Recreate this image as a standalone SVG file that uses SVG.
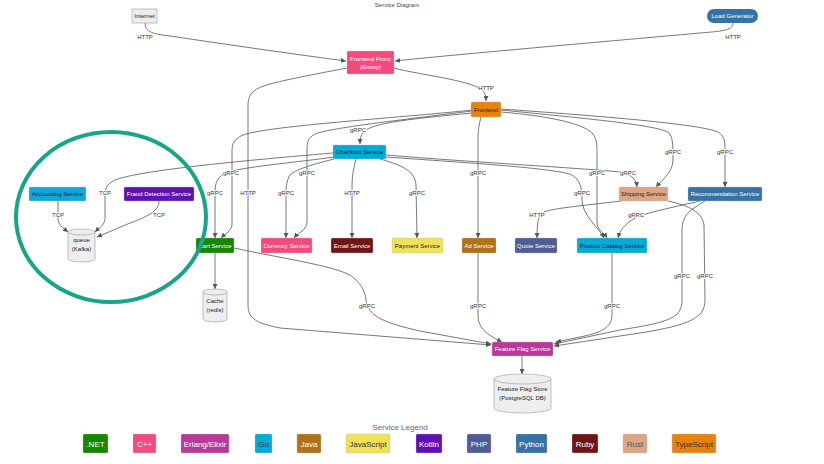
<svg xmlns="http://www.w3.org/2000/svg" width="824" height="464" viewBox="0 0 824 464">
<style>
text{font-family:"Liberation Sans",Arial,sans-serif;text-anchor:middle}
.t{font-size:6px;fill:#fff}
.d{font-size:6px;fill:#222}
.e{fill:none;stroke:#555;stroke-width:0.8;marker-end:url(#ah)}
.l{font-size:6px;fill:#333;paint-order:stroke;stroke:#fff;stroke-width:1.5px}
.n{stroke:#bbb;stroke-width:0.4}
.cyl{fill:#eee;stroke:#999;stroke-width:0.6}
.lg{font-size:8px;fill:#fff}
.lgd{font-size:8px;fill:#333}
</style>
<defs>
<marker id="ah" markerUnits="userSpaceOnUse" markerWidth="5" markerHeight="5" refX="5" refY="2.5" orient="auto">
<path d="M0,0 L5,2.5 L0,5 z" fill="#555"/>
</marker>
</defs>
<rect width="824" height="464" fill="#fff"/>
<text x="397" y="7" style="font-size:6px;fill:#444">Service Diagram</text>

<g id="connectors">
<path class="e" d="M145,23 C145,32 153,34 170,36 C230,45 300,55 346,61"/>
<path class="e" d="M733,23 C733,30 725,31 700,33 C600,42 450,55 395,61"/>
<path class="e" d="M394,68 C420,75 470,80 482,90 C486,94 486,97 486,101"/>
<path class="e" d="M347,68 C310,75 285,80 270,84 C255,88 248,93 248,105 L248,305 C248,318 255,323 280,328 L491,345"/>
<path class="e" d="M472,113 C420,118 378,122 366,130 C361,134 360,138 360,144"/>
<path class="e" d="M472,110 C400,118 260,126 241,136 C233,140 232,145 232,152 L232,224 C232,231 225,234 221,238"/>
<path class="e" d="M472,111 C400,120 330,128 315,134 C308,138 307,142 307,150 L307,222 C307,230 298,233 294,238"/>
<path class="e" d="M481,117 C479,125 478,130 478,140 L478,238"/>
<path class="e" d="M501,112 C550,116 585,124 593,134 C597,140 597,145 597,155 L597,222 C597,230 604,233 607,238"/>
<path class="e" d="M501,110 C580,118 660,125 669,133 C673,138 673,145 673,160 C673,172 662,180 656,187"/>
<path class="e" d="M501,109 C600,116 700,124 718,132 C724,136 725,140 725,150 L725,187"/>
<path class="e" d="M333,153 C250,160 140,170 115,180 C107,184 105,188 105,195 L105,218 C105,225 99,228 95,232"/>
<path class="e" d="M334,157 C300,162 250,166 228,172 C218,176 215,182 215,192 L215,238"/>
<path class="e" d="M334,159 C310,165 295,170 290,175 C287,180 286,185 286,195 L286,238"/>
<path class="e" d="M356,159 C354,167 352,175 352,185 L352,238"/>
<path class="e" d="M380,159 C405,166 415,172 416,185 L417,238"/>
<path class="e" d="M386,155 C470,162 580,168 620,172 C630,174 636,178 637,187"/>
<path class="e" d="M386,157 C470,163 555,168 572,175 C580,180 582,187 582,200 C582,215 599,228 604,238"/>
<path class="e" d="M621,201 C590,205 553,208 544,212 C538,216 537,222 537,238"/>
<path class="e" d="M700,201 C670,208 645,213 635,218 C625,224 620,230 618,238"/>
<path class="e" d="M705,201 C690,210 682,215 682,230 L682,300 C682,318 670,322 620,330 L554,344"/>
<path class="e" d="M668,201 C690,206 702,212 704,225 L705,300 C705,318 690,325 640,333 L554,346"/>
<path class="e" d="M612,253 L612,315 C612,328 600,333 580,337 L556,342"/>
<path class="e" d="M478,253 L478,315 C478,330 490,336 502,342"/>
<path class="e" d="M234,248 C280,258 330,265 350,275 C360,282 365,290 366,300 C368,315 380,322 420,331 L491,344"/>
<path class="e" d="M215,253 L215,289"/>
<path class="e" d="M522,356 L522,374"/>
<path class="e" d="M58,201 L58,218 C58,225 63,228 68,232"/>
<path class="e" d="M159,201 C159,210 150,216 130,223 L97,237"/>
<text class="l" x="145" y="39">HTTP</text>
<text class="l" x="733" y="39">HTTP</text>
<text class="l" x="486" y="90">HTTP</text>
<text class="l" x="358" y="132">gRPC</text>
<text class="l" x="231" y="175">gRPC</text>
<text class="l" x="307" y="175">gRPC</text>
<text class="l" x="478" y="175">gRPC</text>
<text class="l" x="597" y="175">gRPC</text>
<text class="l" x="628" y="175">gRPC</text>
<text class="l" x="673" y="154">gRPC</text>
<text class="l" x="725" y="154">gRPC</text>
<text class="l" x="105" y="195">TCP</text>
<text class="l" x="215" y="195">gRPC</text>
<text class="l" x="248" y="195">HTTP</text>
<text class="l" x="286" y="195">gRPC</text>
<text class="l" x="352" y="195">HTTP</text>
<text class="l" x="417" y="195">gRPC</text>
<text class="l" x="582" y="195">gRPC</text>
<text class="l" x="58" y="217">TCP</text>
<text class="l" x="159" y="217">TCP</text>
<text class="l" x="537" y="217">HTTP</text>
<text class="l" x="636" y="217">gRPC</text>
<text class="l" x="682" y="278">gRPC</text>
<text class="l" x="705" y="278">gRPC</text>
<text class="l" x="367" y="308">gRPC</text>
<text class="l" x="478" y="308">gRPC</text>
<text class="l" x="612" y="308">gRPC</text>
</g>

<g id="internet"><rect x="132" y="9" width="25" height="14" fill="#eee" stroke="#999" stroke-width="0.6"/><text class="d" x="144.5" y="18">Internet</text></g>
<g id="load-generator"><rect x="707" y="9" width="51" height="14" rx="7" fill="#3572A5"/><text class="t" x="732.5" y="18">Load Generator</text></g>
<g id="frontend-proxy"><rect class="n" x="347" y="51" width="47" height="23" rx="1.5" fill="#f34b7d"/><text class="t" x="370.5" y="60.5">Frontend Proxy</text><text class="t" x="370.5" y="68.5">(Envoy)</text></g>
<g id="frontend"><rect class="n" x="471" y="102" width="30" height="15" rx="1.5" fill="#e8820f"/><text class="d" x="486" y="111.5">Frontend</text></g>
<g id="checkout"><rect class="n" x="333" y="145" width="53" height="14" rx="1.5" fill="#00ADD8"/><text class="d" x="359.5" y="154">Checkout Service</text></g>
<g id="accounting"><rect class="n" x="29" y="187" width="57" height="14" rx="1.5" fill="#0fa9d9"/><text class="d" x="57.5" y="196">Accounting Service</text></g>
<g id="fraud-detection"><rect class="n" x="124" y="187" width="70" height="14" rx="1.5" fill="#5e10b1"/><text class="t" x="159" y="196">Fraud Detection Service</text></g>
<g id="shipping"><rect class="n" x="619" y="187" width="49" height="14" rx="1.5" fill="#dea584"/><text class="d" x="643.5" y="196">Shipping Service</text></g>
<g id="recommendation"><rect class="n" x="688" y="187" width="74" height="14" rx="1.5" fill="#3572A5"/><text class="t" x="725" y="196">Recommendation Service</text></g>
<g id="cart"><rect class="n" x="196" y="238" width="38" height="15" rx="1.5" fill="#178600"/><text class="t" x="215" y="247.5">Cart Service</text></g>
<g id="currency"><rect class="n" x="261" y="238" width="51" height="15" rx="1.5" fill="#f34b7d"/><text class="t" x="286.5" y="247.5">Currency Service</text></g>
<g id="email"><rect class="n" x="331" y="238" width="42" height="15" rx="1.5" fill="#701516"/><text class="t" x="352" y="247.5">Email Service</text></g>
<g id="payment"><rect class="n" x="392" y="238" width="51" height="15" rx="1.5" fill="#f1e05a"/><text class="d" x="417.5" y="247.5">Payment Service</text></g>
<g id="ad"><rect class="n" x="462" y="238" width="34" height="15" rx="1.5" fill="#b07219"/><text class="t" x="479" y="247.5">Ad Service</text></g>
<g id="quote"><rect class="n" x="515" y="238" width="42" height="15" rx="1.5" fill="#4F5D95"/><text class="t" x="536" y="247.5">Quote Service</text></g>
<g id="product-catalog"><rect class="n" x="577" y="238" width="70" height="15" rx="1.5" fill="#00ADD8"/><text class="d" x="612" y="247.5">Product Catalog Service</text></g>
<g id="feature-flag"><rect class="n" x="492" y="342" width="61" height="14" rx="1.5" fill="#b83998"/><text class="t" x="522.5" y="351">Feature Flag Service</text></g>
<g id="queue"><path class="cyl" d="M68,232 A13.5,3 0 0 1 95,232 L95,259 A13.5,3 0 0 1 68,259 Z"/><path d="M68,232 A13.5,3 0 0 0 95,232" fill="none" stroke="#999" stroke-width="0.6"/><text class="d" x="81.5" y="242">queue</text><text class="d" x="81.5" y="251">(Kafka)</text></g>
<g id="cache"><path class="cyl" d="M203,292 A12,3 0 0 1 227,292 L227,319 A12,3 0 0 1 203,319 Z"/><path d="M203,292 A12,3 0 0 0 227,292" fill="none" stroke="#999" stroke-width="0.6"/><text class="d" x="215" y="303">Cache</text><text class="d" x="215" y="312">(redis)</text></g>
<g id="feature-flag-store"><path class="cyl" d="M494,379 A28.5,5 0 0 1 551,379 L551,408 A28.5,5 0 0 1 494,408 Z"/><path d="M494,379 A28.5,5 0 0 0 551,379" fill="none" stroke="#999" stroke-width="0.6"/><text class="d" x="522.5" y="391">Feature Flag Store</text><text class="d" x="522.5" y="400">(PostgreSQL DB)</text></g>

<g id="legend">
<text x="400" y="430" style="font-size:8px;fill:#666">Service Legend</text>
<rect class="n" x="83" y="434" width="25" height="19" rx="1.5" fill="#178600"/><text class="lg" x="95.5" y="446.5">.NET</text>
<rect class="n" x="133" y="434" width="23" height="19" rx="1.5" fill="#f34b7d"/><text class="lg" x="144.5" y="446.5">C++</text>
<rect class="n" x="181" y="434" width="48" height="19" rx="1.5" fill="#b83998"/><text class="lg" x="205" y="446.5">Erlang/Elixir</text>
<rect class="n" x="255" y="434" width="17" height="19" rx="1.5" fill="#00ADD8"/><text class="lgd" x="263.5" y="446.5">Go</text>
<rect class="n" x="297" y="434" width="24" height="19" rx="1.5" fill="#b07219"/><text class="lg" x="309" y="446.5">Java</text>
<rect class="n" x="346" y="434" width="44" height="19" rx="1.5" fill="#f1e05a"/><text class="lgd" x="368" y="446.5">JavaScript</text>
<rect class="n" x="416" y="434" width="26" height="19" rx="1.5" fill="#5e10b1"/><text class="lg" x="429" y="446.5">Kotlin</text>
<rect class="n" x="467" y="434" width="24" height="19" rx="1.5" fill="#4F5D95"/><text class="lg" x="479" y="446.5">PHP</text>
<rect class="n" x="516" y="434" width="31" height="19" rx="1.5" fill="#3572A5"/><text class="lg" x="531.5" y="446.5">Python</text>
<rect class="n" x="572" y="434" width="26" height="19" rx="1.5" fill="#701516"/><text class="lg" x="585" y="446.5">Ruby</text>
<rect class="n" x="623" y="434" width="24" height="19" rx="1.5" fill="#dea584"/><text class="lgd" x="635" y="446.5" style="fill:#555">Rust</text>
<rect class="n" x="672" y="434" width="44" height="19" rx="1.5" fill="#e8820f"/><text class="lgd" x="694" y="446.5">TypeScript</text>
</g>

<ellipse id="highlight" cx="111" cy="217" rx="95" ry="85" fill="none" stroke="#17a589" stroke-width="4"/>
</svg>
